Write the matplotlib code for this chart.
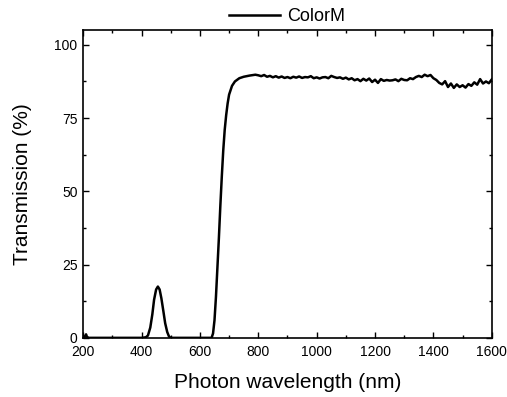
import matplotlib
matplotlib.use("Agg")
import matplotlib.pyplot as plt
from matplotlib.ticker import MultipleLocator

plt.rcParams['font.family'] = ['Liberation Sans', 'DejaVu Sans']

wavelength = [200, 205, 210, 213, 220, 300, 400, 415, 422, 430, 437, 443, 450, 456, 462,
              468, 475, 481, 488, 494, 500, 600, 640, 645, 650, 655, 660, 665, 670, 675,
              680, 685, 690, 695, 700, 710, 720, 735, 750, 770, 790,
              800, 810, 820, 830, 840, 850, 860, 870, 880, 890, 900, 910, 920, 930, 940,
              950, 960, 970, 980, 990, 1000, 1010, 1020, 1030, 1040, 1050, 1060, 1070,
              1080, 1090, 1100, 1110, 1120, 1130, 1140, 1150, 1160, 1170, 1180, 1190,
              1200, 1210, 1220, 1230, 1240, 1250, 1260, 1270, 1280, 1290, 1300, 1310,
              1320, 1330, 1340, 1350, 1360, 1370, 1380, 1390, 1400, 1410, 1420, 1430,
              1440, 1450, 1460, 1470, 1480, 1490, 1500, 1510, 1520, 1530, 1540, 1550,
              1560, 1570, 1580, 1590, 1600]
transmission = [0, 0.3, 1.2, 0.3, 0, 0, 0, 0.2, 0.8, 3.5, 8, 13, 16.5, 17.5, 16.5,
                13.5, 9, 5, 2, 0.5, 0, 0, 0, 1.5, 6, 14, 24, 34, 45, 55,
                64, 71, 76, 80, 83, 86, 87.5, 88.6, 89.1, 89.5, 89.8,
                89.6, 89.3, 89.7, 89.1, 89.4, 88.9, 89.3, 88.8, 89.2, 88.7, 89.0, 88.6, 89.1, 88.8, 89.2,
                88.7, 89.0, 88.9, 89.3, 88.6, 88.9, 88.5, 88.9, 89.0, 88.6, 89.4, 89.0, 88.7,
                88.9, 88.4, 88.8, 88.2, 88.6, 87.9, 88.3, 87.6, 88.4, 87.8, 88.5, 87.3,
                88.1, 87.0, 88.3, 87.7, 88.0, 87.8, 87.9, 88.2, 87.6, 88.4, 88.0, 87.9,
                88.6, 88.3, 89.0, 89.4, 89.0, 89.8, 89.3, 89.7, 88.6, 88.0, 87.0, 86.5,
                87.6, 85.6, 86.8, 85.3, 86.5, 85.6, 86.2, 85.4, 86.6, 86.0, 87.2, 86.4,
                88.3, 86.8, 87.5, 86.9, 88.2]

series_label = "ColorM"
x_label = "Photon wavelength (nm)"
y_label = "Transmission (%)"

fig = plt.figure(figsize=(5.07, 3.97), dpi=100)
ax = fig.add_axes([0.164, 0.149, 0.806, 0.775])
line, = ax.plot(wavelength, transmission, color='black', lw=1.8)

ax.set_xlim(200, 1600)
ax.set_ylim(0, 105)
ax.xaxis.set_major_locator(MultipleLocator(200))
ax.xaxis.set_minor_locator(MultipleLocator(100))
ax.yaxis.set_major_locator(MultipleLocator(25))
ax.yaxis.set_minor_locator(MultipleLocator(12.5))
ax.tick_params(which='both', direction='in', top=True, right=True, labelsize=10)
ax.tick_params(axis='x', pad=5)
ax.tick_params(axis='y', pad=4)
ax.tick_params(which='major', length=4, width=1)
ax.tick_params(which='minor', length=2.5, width=1)
for s in ax.spines.values():
    s.set_linewidth(1.2)

ax.set_xlabel(x_label, fontsize=15, labelpad=10)
ax.set_ylabel(y_label, fontsize=15, labelpad=16)

fig.legend([line], [series_label], loc='center', bbox_to_anchor=(0.566, 0.958),
           frameon=False, fontsize=13, handlelength=2.8, handletextpad=0.4,
           borderaxespad=0, borderpad=0.1)

fig.savefig("out.png", dpi=100)
